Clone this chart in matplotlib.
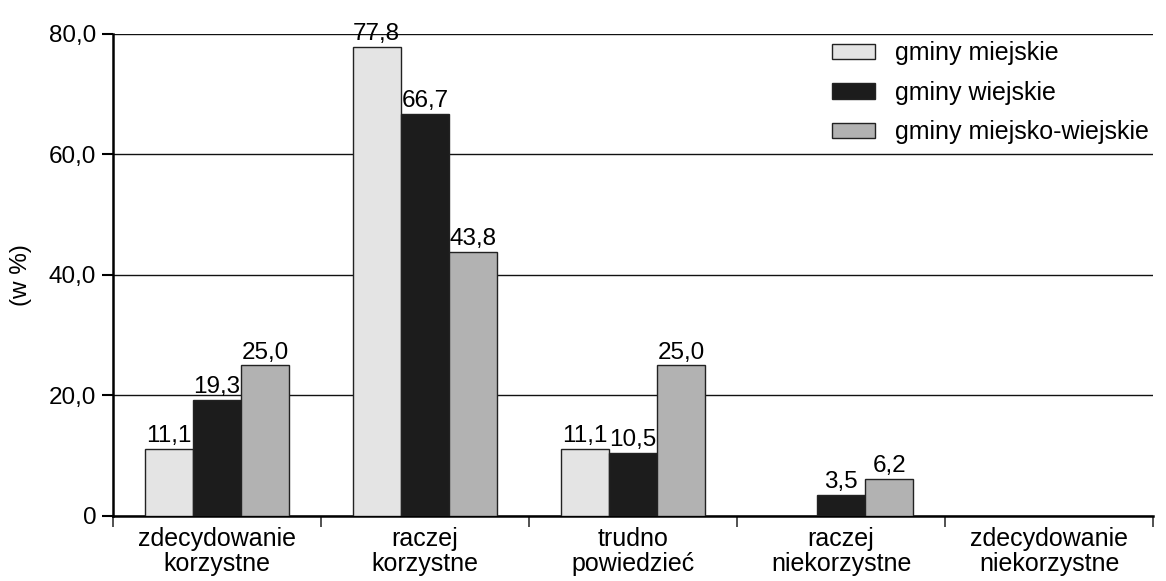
import numpy as np
import matplotlib
matplotlib.use("Agg")
import matplotlib.pyplot as plt
from matplotlib.patches import Patch
from matplotlib.ticker import FixedLocator, NullFormatter

plt.rcParams['font.family'] = ['Liberation Sans', 'DejaVu Sans']

categories = ["zdecydowanie\nkorzystne", "raczej\nkorzystne", "trudno\npowiedzieć",
              "raczej\nniekorzystne", "zdecydowanie\nniekorzystne"]
series_names = ["gminy miejskie", "gminy wiejskie", "gminy miejsko-wiejskie"]
miejskie = [11.1, 77.8, 11.1, 0.0, 0.0]
wiejskie = [19.3, 66.7, 10.5, 3.5, 0.0]
miejsko_wiejskie = [25.0, 43.8, 25.0, 6.2, 0.0]
y_ticks = [0, 20, 40, 60, 80]
y_ticklabels = ["0", "20,0", "40,0", "60,0", "80,0"]

colors = ["#e4e4e4", "#1c1c1c", "#b2b2b2"]
edge = "#222222"
series = [miejskie, wiejskie, miejsko_wiejskie]

fig = plt.figure(figsize=(11.66, 5.81), dpi=100)
ax = fig.add_axes([0.0969, 0.1119, 0.892, 0.8296])

x = np.arange(len(categories))
width = 0.232
fs_num = 17.5
fs_txt = 18

for i, (vals, col) in enumerate(zip(series, colors)):
    pos = x + (i - 1) * width
    for p, v in zip(pos, vals):
        if v <= 0:
            continue
        ax.bar(p, v, width, color=col, edgecolor=edge, linewidth=1.0, zorder=3)
        ax.text(p, v + 0.3, f"{v:.1f}".replace(".", ","), ha="center", va="bottom",
                fontsize=fs_num, color="black", zorder=4)

ax.set_xlim(-0.5, len(categories) - 0.5)
ax.set_ylim(0, 80)
ax.set_yticks(y_ticks)
ax.set_yticklabels(y_ticklabels, fontsize=fs_num)
ax.yaxis.grid(True, color="#111111", linewidth=1.0, zorder=0)

ax.set_xticks(x)
ax.set_xticklabels(categories, fontsize=fs_txt, linespacing=1.05)
ax.tick_params(axis="x", which="major", length=0, pad=8)
ax.xaxis.set_minor_locator(FixedLocator(np.arange(len(categories) + 1) - 0.5))
ax.xaxis.set_minor_formatter(NullFormatter())
ax.tick_params(axis="x", which="minor", length=8, width=1.2, color="#333333")
ax.tick_params(axis="y", length=8, width=1.5, pad=4)

for s in ["top", "right"]:
    ax.spines[s].set_visible(False)
ax.spines["left"].set_linewidth(1.8)
ax.spines["bottom"].set_linewidth(1.8)

ax.set_ylabel("(w %)", fontsize=fs_num, labelpad=12)

handles = [Patch(facecolor=c, edgecolor=edge, linewidth=1.0) for c in colors]
fig.legend(handles, series_names, loc="upper right", bbox_to_anchor=(0.985, 0.929),
           frameon=False, fontsize=fs_txt, handlelength=1.7, handleheight=0.6,
           labelspacing=0.62, handletextpad=0.8, borderpad=0, borderaxespad=0)

fig.savefig("out.png", dpi=100)
